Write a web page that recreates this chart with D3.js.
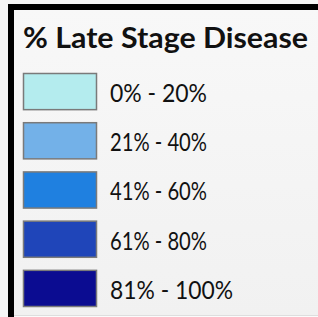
<!DOCTYPE html>
<html><head><meta charset="utf-8">
<script src="https://cdn.jsdelivr.net/npm/d3@7"></script>
<style>html,body{margin:0;padding:0;background:#f5f5f5;overflow:hidden}</style>
</head><body>
<div id="chart"></div>
<script>
const title = "% Late Stage Disease";
const categories = ["0% - 20%", "21% - 40%", "41% - 60%", "61% - 80%", "81% - 100%"];
const colors = ["#b4ecee", "#73b1e8", "#1f80e0", "#1f45b9", "#0b0c91"];
const labelWidths = [97, 97, 97, 97, 123];

const W = 318, H = 317;
const svg = d3.select("#chart").append("svg").attr("width", W).attr("height", H);

const defs = svg.append("defs");
const g = defs.append("linearGradient").attr("id", "bg").attr("x1", 0).attr("y1", 0).attr("x2", 0).attr("y2", 1);
g.append("stop").attr("offset", "0%").attr("stop-color", "#f8f8f8");
g.append("stop").attr("offset", "100%").attr("stop-color", "#f1f1f1");

svg.append("rect").attr("x", 0).attr("y", 0).attr("width", W).attr("height", H).attr("fill", "#f6f6f6");
svg.append("rect").attr("x", 14).attr("y", 10).attr("width", W - 14).attr("height", 305).attr("fill", "url(#bg)");
svg.append("rect").attr("x", 14).attr("y", 315).attr("width", W - 14).attr("height", 1).attr("fill", "#dedede");
svg.append("rect").attr("x", 14).attr("y", 316).attr("width", W - 14).attr("height", 1).attr("fill", "#fbfbfb");
// frame
svg.append("rect").attr("x", 8).attr("y", 4).attr("width", W - 8).attr("height", 6).attr("fill", "#000");
svg.append("rect").attr("x", 8).attr("y", 4).attr("width", 6).attr("height", H - 4).attr("fill", "#000");

svg.append("text").attr("x", 23).attr("y", 48)
  .attr("font-family", "Lato, 'Open Sans', sans-serif").attr("font-weight", "bold")
  .attr("font-size", 28.5).attr("fill", "#111")
  .attr("textLength", 285).attr("lengthAdjust", "spacingAndGlyphs")
  .text(title);

const y = d3.scaleBand().domain(categories).range([73, 307]).paddingInner(0.245).paddingOuter(0);

const rows = svg.selectAll("g.row").data(categories).join("g").attr("class", "row");
rows.append("rect")
  .attr("x", 23.5).attr("y", d => y(d) + 0.5)
  .attr("width", 73).attr("height", y.bandwidth() - 1)
  .attr("fill", (d, i) => colors[i])
  .attr("stroke", "#7a7a7a").attr("stroke-width", 1.5);
rows.append("text")
  .attr("x", 110).attr("y", d => y(d) + 29)
  .attr("font-family", "Lato, 'Open Sans', sans-serif")
  .attr("font-size", 25.5).attr("fill", "#111")
  .attr("textLength", (d, i) => labelWidths[i]).attr("lengthAdjust", "spacingAndGlyphs")
  .text(d => d);
</script>
</body></html>
